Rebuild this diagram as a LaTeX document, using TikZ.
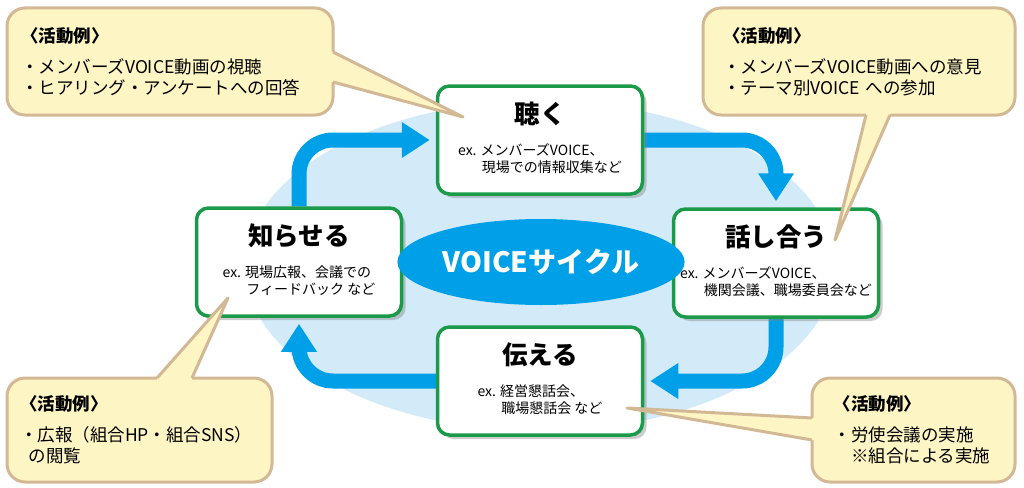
\documentclass[tikz,border=0pt]{standalone}
\usepackage{fontspec}
\setmainfont{Noto Sans CJK JP}
\usetikzlibrary{shapes.geometric, arrows.meta, shadows, backgrounds}

\definecolor{cycleblue}{HTML}{00A0E9}
\definecolor{paleblue}{HTML}{D3EAF8}
\definecolor{stagegreen}{HTML}{1B9A4A}
\definecolor{noteyellow}{HTML}{FDF5C4}
\definecolor{notetan}{HTML}{D3B896}

\newcommand{\stagetitle}[1]{{\fontsize{25.5}{30}\selectfont\bfseries #1}}
\newcommand{\notehead}{{\bfseries 〈活動例〉}}

\begin{document}
\begin{tikzpicture}[x=1pt, y=-1pt,
    stage/.style={rectangle, draw=stagegreen, line width=3.5pt, fill=white, rounded corners=12pt,
        minimum width=205pt, minimum height=108pt, align=center, inner sep=0pt,
        font=\fontsize{14}{17.5}\selectfont,
        drop shadow={shadow xshift=4pt, shadow yshift=-4pt, fill=black!50, opacity=0.4}},
    flow/.style={draw=cycleblue, line width=15pt, rounded corners=34pt, shorten >=6pt,
        -{Triangle[length=28pt, width=34pt]}},
    note/.style={rectangle, draw=notetan, line width=3pt, fill=noteyellow, rounded corners=18pt,
        align=left, font=\fontsize{17.5}{21}\selectfont},
    notetip/.style={draw=notetan, line width=3pt, line join=round}
]
\useasboundingbox (0,0) rectangle (1024,487);

% the four steps
\node[stage] (kiku) at (540,140) {\stagetitle{聴く}\\[14pt]
    \begin{tabular}[t]{@{}l@{}}ex. メンバーズVOICE、\\\hspace{1.7em}現場での情報収集など\end{tabular}};
\node[stage] (hanashi) at (776,263) {\stagetitle{話し合う}\\[14pt]
    \begin{tabular}[t]{@{}l@{}}ex. メンバーズVOICE、\\\hspace{1.7em}機関会議、職場委員会など\end{tabular}};
\node[stage] (tsutae) at (540,381) {\stagetitle{伝える}\\[14pt]
    \begin{tabular}[t]{@{}l@{}}ex. 経営懇話会、\\\hspace{1.7em}職場懇話会 など\end{tabular}};
\node[stage] (shirase) at (299,262) {\stagetitle{知らせる}\\[14pt]
    \begin{tabular}[t]{@{}l@{}}ex. 現場広報、会議での\\\hspace{1.7em}フィードバック など\end{tabular}};

% centre
\node[ellipse, fill=cycleblue, minimum width=252pt, minimum height=86pt, text=white,
    font=\fontsize{28}{32}\selectfont\bfseries] (voice) at (541,262) {VOICEサイクル};

% background and cycle arrows
\begin{scope}[on background layer]
    \fill[paleblue] (540,266) ellipse [x radius=295pt, y radius=165pt];
    \draw[flow] (shirase.north) |- (kiku.west);
    \draw[flow] (kiku.east) -| (hanashi.north);
    \draw[flow] (hanashi.south) |- (tsutae.east);
    \draw[flow] (tsutae.west) -| (shirase.south);
\end{scope}

% callouts
\node[note, inner xsep=14pt, text width=298pt, minimum height=107pt] (notekiku) at (170,61.5)
    {\notehead\\[10pt]・メンバーズVOICE動画の視聴\\・ヒアリング・アンケートへの回答};
\fill[noteyellow] (326,52) -- (333,52) -- (463,117) -- (333,82) -- (326,82) -- cycle;
\draw[notetip] (333,52) -- (463,117) -- (333,82);

\node[note, inner xsep=20pt, text width=272pt, minimum height=107pt] (notehanashi) at (859,61.5)
    {\notehead\\[10pt]・メンバーズVOICE動画への意見\\・テーマ別VOICE への参加};
\fill[noteyellow] (866,108) -- (866,115) -- (835,240) -- (890,115) -- (890,108) -- cycle;
\draw[notetip] (866,115) -- (835,240) -- (890,115);

\node[note, inner xsep=13pt, text width=239pt, minimum height=104pt] (noteshirase) at (139.5,430)
    {\notehead\\[10pt]・広報（組合HP・組合SNS）\\\hspace{0.5em}の閲覧};
\fill[noteyellow] (157,385) -- (157,378) -- (228,298) -- (192,378) -- (192,385) -- cycle;
\draw[notetip] (157,378) -- (228,298) -- (192,378);

\node[note, inner xsep=21.5pt, text width=160pt, minimum height=104pt] (notetsutae) at (913.5,430)
    {\notehead\\[10pt]・労使会議の実施\\\hspace{1em}※組合による実施};
\fill[noteyellow] (819,418) -- (812,418) -- (627,408) -- (812,440) -- (819,440) -- cycle;
\draw[notetip] (812,418) -- (627,408) -- (812,440);
\end{tikzpicture}
\end{document}
